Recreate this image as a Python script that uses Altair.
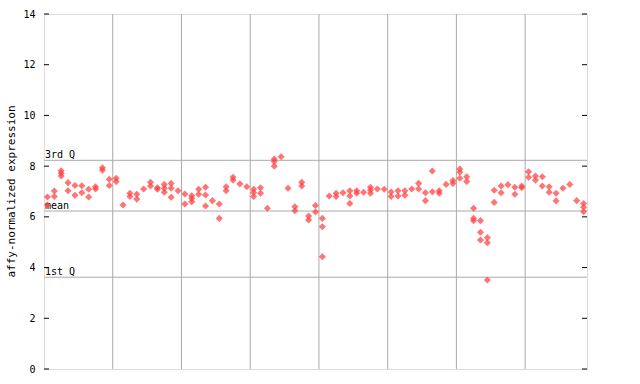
import altair as alt
import pandas as pd

N = 79
rep_a = [6.78, 7.02, 7.82, 7.35, 7.24, 7.23, 7.09, 7.19, 7.94, 7.48,
         7.52, 6.47, 6.93, 6.89, 7.10, 7.36, 7.15, 7.28, 7.32, 7.03,
         6.90, 6.83, 7.09, 7.17, 6.64, 6.51, 7.19, 7.56, 7.30, 7.19,
         7.09, 7.15, 6.34, 8.28, 8.37, 7.13, 6.40, 7.36, 6.03, 6.45,
         5.94, 6.82, 6.93, 6.95, 7.03, 7.03, 6.97, 7.17, 7.10, 7.09,
         6.98, 7.03, 7.03, 7.10, 7.32, 6.95, 7.81, 7.03, 7.28, 7.43,
         7.89, 7.58, 6.34, 5.85, 5.18, 7.05, 7.22, 7.27, 7.17, 7.22,
         7.78, 7.61, 7.58, 7.19, 6.93, 7.13, 7.28, 6.64, 6.53]
rep_b = [6.47, 6.80, 7.72, 7.03, 6.85, 6.95, 6.78, 7.10, 7.84, 7.24,
         7.39, None, 6.80, 6.70, None, 7.22, 7.09, 7.13, 7.13, None,
         6.51, 6.73, 6.89, 6.86, None, 5.94, 7.03, 7.45, None, None,
         6.96, 6.93, None, 8.18, None, None, 6.24, 7.22, 5.88, 6.19,
         5.61, None, 6.80, None, 6.82, 6.93, None, 7.06, None, None,
         6.80, 6.82, 6.85, None, 7.10, 6.64, 6.99, 6.93, None, 7.32,
         7.76, 7.39, 5.94, 5.39, 4.98, 6.57, 6.95, None, 6.89, 7.15,
         7.56, 7.45, 7.22, 6.97, 6.63, None, None, None, 6.38]
rep_c = [None, None, 7.61, None, None, None, None, None, None, None,
         None, None, None, None, None, None, None, 6.97, 6.77, None,
         None, 6.60, None, 6.43, None, None, None, None, None, None,
         6.80, None, None, 8.00, None, None, None, None, None, None,
         4.43, None, None, None, 6.53, None, None, 6.93, None, None,
         None, None, None, None, None, None, None, None, None, None,
         7.52, None, 5.85, 5.09, 3.51, None, None, None, None, None,
         None, None, None, None, None, None, None, None, 6.20]

quart_names = ["3rd Q", "mean", "1st Q"]
quart_values = [8.23, 6.23, 3.62]
y_ticks = [0, 2, 4, 6, 8, 10, 12, 14]
grid_pos = [9.5, 19.5, 29.5, 39.5, 49.5, 59.5, 69.5]

rows = []
for i in range(N):
    for arr in (rep_a, rep_b, rep_c):
        if arr[i] is not None:
            rows.append({"idx": i, "value": arr[i]})
pts = pd.DataFrame(rows)
quart = pd.DataFrame({"name": quart_names, "q": quart_values})
ticks = pd.DataFrame({"t": y_ticks})
grid = pd.DataFrame({"g": grid_pos})

FONT = "DejaVu Sans Mono"
xscale = alt.Scale(domain=[-0.5, N - 0.5], nice=False, zero=False)
yscale = alt.Scale(domain=[0, 14], nice=False, zero=True)

yaxis = alt.Axis(
    values=y_ticks,
    title="affy-normalized expression",
    labelFont=FONT,
    labelFontSize=10,
    labelColor="black",
    titleFont=FONT,
    titleFontSize=11,
    titleFontWeight="normal",
    titleColor="black",
    ticks=False,
    domain=False,
    grid=False,
    labelPadding=9,
    titleX=-33,
    titleY=177,
    titleAlign="center",
    titleBaseline="middle",
)
TITLE = "affy-normalized expression"

vgrid = alt.Chart(grid).mark_rule(color="#aaaaaa", strokeWidth=1).encode(
    x=alt.X("g:Q", scale=xscale, axis=None)
)
hlines = alt.Chart(quart).mark_rule(color="#aaaaaa", strokeWidth=1).encode(
    y=alt.Y("q:Q", scale=yscale, axis=yaxis, title=TITLE)
)
qlabels = alt.Chart(quart).mark_text(
    align="left", baseline="alphabetic", dy=-2, font=FONT, fontSize=10, color="black"
).encode(
    x=alt.value(1),
    y=alt.Y("q:Q", scale=yscale, axis=yaxis, title=TITLE),
    text="name:N",
)
lticks = alt.Chart(ticks).mark_rule(color="black").encode(
    y=alt.Y("t:Q", scale=yscale, axis=yaxis, title=TITLE), x=alt.value(0), x2=alt.value(5)
)
rticks = alt.Chart(ticks).mark_rule(color="black").encode(
    y=alt.Y("t:Q", scale=yscale, axis=yaxis, title=TITLE), x=alt.value(538), x2=alt.value(543)
)
points = alt.Chart(pts).mark_point(
    shape="diamond", filled=True, size=50, color="#ff3f3f", opacity=0.72
).encode(
    x=alt.X("idx:Q", scale=xscale, axis=None),
    y=alt.Y("value:Q", scale=yscale, axis=yaxis, title=TITLE),
)

chart = (
    alt.layer(vgrid, hlines, qlabels, lticks, rticks, points)
    .properties(
        width=543,
        height=355,
        autosize="none",
        padding={"left": 44, "top": 14, "right": 53, "bottom": 15},
    )
    .configure_view(stroke="black", strokeWidth=1.5)
    .configure(background="white")
)

chart.save("out.html", embed_options={"renderer": "svg", "actions": False})
